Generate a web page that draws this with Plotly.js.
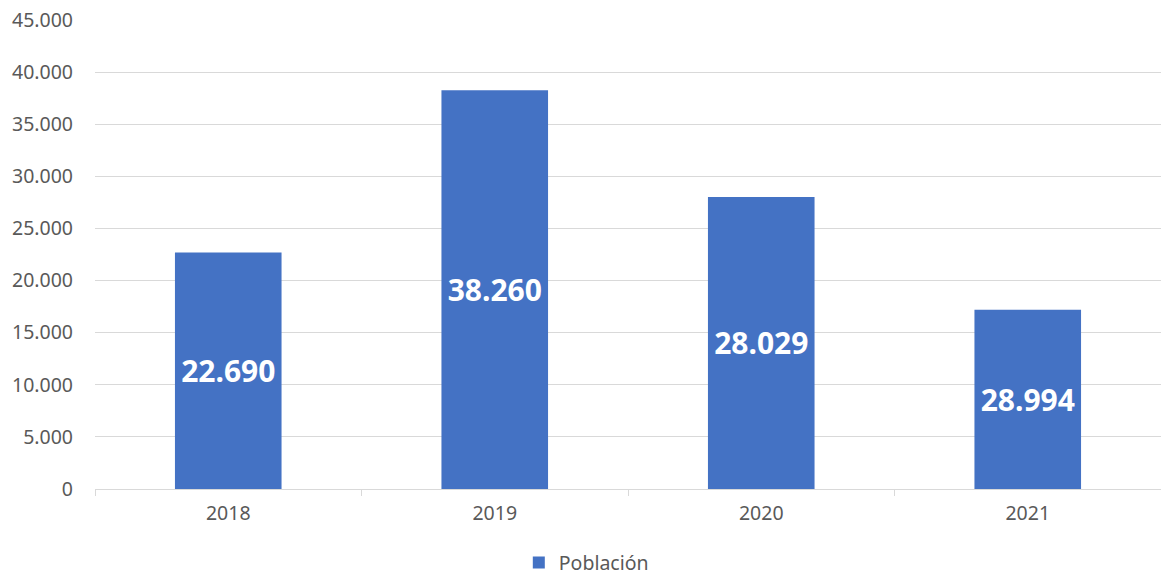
<!DOCTYPE html>
<html>
<head>
<meta charset="utf-8">
<script src="https://cdn.plot.ly/plotly-3.0.1.min.js"></script>
<style>html,body{margin:0;padding:0;background:#fff;}#chart{width:1161px;height:575px;}</style>
</head>
<body>
<div id="chart"></div>
<script>
var years = ['2018', '2019', '2020', '2021'];
var poblacion = [22690, 38260, 28029, 17200];
var etiquetas = ['22.690', '38.260', '28.029', '28.994'];
var yTickVals = [0, 5000, 10000, 15000, 20000, 25000, 30000, 35000, 40000, 45000];
var yTickText = ['0', '5.000', '10.000', '15.000', '20.000', '25.000', '30.000', '35.000', '40.000', '45.000'];
var serieNombre = 'Población';

var trace = {
  type: 'bar',
  x: years,
  y: poblacion,
  name: serieNombre,
  text: etiquetas,
  texttemplate: '%{text}',
  textposition: 'inside',
  insidetextanchor: 'middle',
  textangle: 0,
  constraintext: 'none',
  insidetextfont: {family: 'Noto Sans', size: 30, color: '#ffffff', weight: 'bold'},
  marker: {color: '#4472c4'},
  hoverinfo: 'none'
};

var layout = {
  width: 1161,
  height: 575,
  margin: {l: 95, r: 0, t: 20, b: 86},
  paper_bgcolor: '#ffffff',
  plot_bgcolor: '#ffffff',
  bargap: 0.6,
  showlegend: true,
  font: {family: 'Noto Sans', color: '#595959', size: 19.5},
  xaxis: {
    type: 'category',
    showline: true,
    linecolor: '#d9d9d9',
    linewidth: 1,
    ticks: 'outside',
    tickson: 'boundaries',
    ticklen: 6,
    tickcolor: '#d9d9d9',
    tickfont: {family: 'Noto Sans', size: 19.5, color: '#595959'},
    showgrid: false,
    zeroline: false,
    ticklabelstandoff: 7
  },
  yaxis: {
    range: [0, 45000],
    tickvals: yTickVals,
    ticktext: yTickText,
    showgrid: true,
    gridcolor: '#d9d9d9',
    gridwidth: 1,
    zeroline: false,
    showline: false,
    ticks: '',
    tickfont: {family: 'Noto Sans', size: 19.5, color: '#595959'},
    ticklabelstandoff: 21
  },
  legend: {
    orientation: 'h',
    xref: 'container',
    yref: 'container',
    x: 0.505,
    xanchor: 'center',
    y: 0.021,
    yanchor: 'middle',
    font: {family: 'Noto Sans', size: 19.5, color: '#595959'}
  }
};

Plotly.newPlot('chart', [trace], layout, {displayModeBar: false, staticPlot: true});
</script>
</body>
</html>
